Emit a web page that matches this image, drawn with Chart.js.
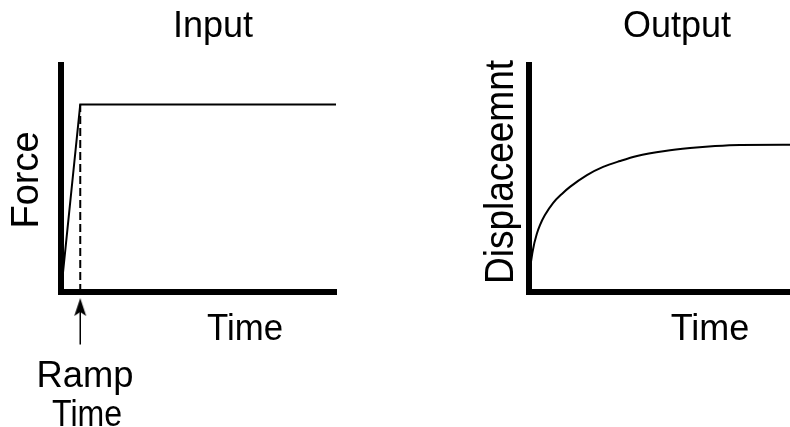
<!DOCTYPE html>
<html>
<head>
<meta charset="utf-8">
<script src="https://cdn.jsdelivr.net/npm/chart.js@4/dist/chart.umd.min.js"></script>
<style>
    html, body { margin: 0; padding: 0; background: #fff; }
    #wrap { position: relative; width: 790px; height: 427px; overflow: hidden; }
    #wrap canvas { position: absolute; left: 0; top: 0; }
</style>
</head>
<body>
<div id="wrap">
    <canvas id="inputChart" width="790" height="427"></canvas>
    <canvas id="outputChart" width="790" height="427"></canvas>
</div>
<script>
// ===========================
// Data
// ===========================
const inputTime = [0, 7, 100];
const inputForce = [0, 1, 1];
const rampTime = 7;
const rampLine = [0, 1];
const arrowY = [-0.28, -0.08]; // tail, head (below the time axis)

const outputTime = [0, 0.4, 1.5, 3.1, 4.2, 6.1, 9.2, 12.6, 15.7, 22.2, 28.4, 34.9, 41.4, 52.1, 61.7, 71.3, 80.8, 100];
const outputDisp = [0, 0.09, 0.185, 0.26, 0.295, 0.339, 0.392, 0.432, 0.463, 0.515, 0.551, 0.577, 0.599, 0.621, 0.634, 0.643, 0.648, 0.649];

const toPoints = (xs, ys) => xs.map((x, i) => ({ x: x, y: ys[i] }));

// ===========================
// Text labels plugin
// ===========================
const textLabels = {
    id: 'textLabels',
    afterDraw(chart, args, opts) {
        const ctx = chart.ctx;
        (opts.items || []).forEach(item => {
            ctx.save();
            ctx.fillStyle = '#000';
            ctx.font = item.size + 'px "Liberation Sans", Arial, Helvetica, sans-serif';
            ctx.textAlign = 'center';
            ctx.textBaseline = 'alphabetic';
            ctx.translate(item.x, item.y);
            if (item.rotate) ctx.rotate(item.rotate * Math.PI / 180);
            if (item.maxWidth) ctx.fillText(item.text, 0, 0, item.maxWidth);
            else ctx.fillText(item.text, 0, 0);
            ctx.restore();
        });
    },
};

// arrow head drawn once, used as point style
const arrowHead = document.createElement('canvas');
arrowHead.width = 14;
arrowHead.height = 18;
(function () {
    const c = arrowHead.getContext('2d');
    c.fillStyle = '#000';
    c.beginPath();
    c.moveTo(7, 0);
    c.lineTo(13, 18);
    c.lineTo(7, 14);
    c.lineTo(1, 18);
    c.closePath();
    c.fill();
})();

function axisOptions(min, max) {
    return {
        type: 'linear',
        min: min,
        max: max,
        grid: { display: false, drawTicks: false },
        ticks: { display: false },
        border: { display: true, width: 6, color: '#000' },
    };
}

const baseOptions = {
    responsive: false,
    devicePixelRatio: 1,
    animation: false,
    plugins: {
        legend: { display: false },
        tooltip: { enabled: false },
    },
};

// ===========================
// Input chart
// ===========================
new Chart(document.getElementById('inputChart'), {
    type: 'line',
    data: {
        datasets: [
            {
                data: toPoints(inputTime, inputForce),
                borderColor: '#000',
                borderWidth: 2,
                pointRadius: 0,
                tension: 0,
            },
            {
                data: toPoints([rampTime, rampTime], rampLine),
                borderColor: '#000',
                borderWidth: 2,
                borderDash: [8, 4],
                pointRadius: 0,
            },
            {
                data: toPoints([rampTime, rampTime], arrowY),
                borderColor: '#000',
                borderWidth: 1.5,
                pointRadius: [0, 20],
                pointStyle: [false, arrowHead],
                clip: false,
            },
        ],
    },
    options: {
        ...baseOptions,
        layout: { padding: { left: 61, top: 65, right: 454, bottom: 135 } },
        scales: {
            x: axisOptions(0, 100),
            y: axisOptions(0, 1.21),
        },
        plugins: {
            ...baseOptions.plugins,
            textLabels: {
                items: [
                    { text: 'Input', x: 213, y: 37, size: 36 },
                    { text: 'Force', x: 38, y: 180, size: 38, rotate: -90 },
                    { text: 'Time', x: 245, y: 340, size: 36, maxWidth: 76 },
                    { text: 'Ramp', x: 85, y: 387, size: 37, maxWidth: 97 },
                    { text: 'Time', x: 87, y: 426, size: 37, maxWidth: 70 },
                ],
            },
        },
    },
    plugins: [textLabels],
});

// ===========================
// Output chart
// ===========================
new Chart(document.getElementById('outputChart'), {
    type: 'line',
    data: {
        datasets: [
            {
                data: toPoints(outputTime, outputDisp),
                borderColor: '#000',
                borderWidth: 2,
                pointRadius: 0,
                cubicInterpolationMode: 'monotone',
            },
        ],
    },
    options: {
        ...baseOptions,
        layout: { padding: { left: 529, top: 65, right: 0, bottom: 135 } },
        scales: {
            x: axisOptions(0, 100),
            y: axisOptions(0, 1),
        },
        plugins: {
            ...baseOptions.plugins,
            textLabels: {
                items: [
                    { text: 'Output', x: 677, y: 37, size: 36 },
                    { text: 'Displaceemnt', x: 513, y: 172, size: 40, rotate: -90, maxWidth: 224 },
                    { text: 'Time', x: 710, y: 340, size: 36 },
                ],
            },
        },
    },
    plugins: [textLabels],
});
</script>
</body>
</html>
